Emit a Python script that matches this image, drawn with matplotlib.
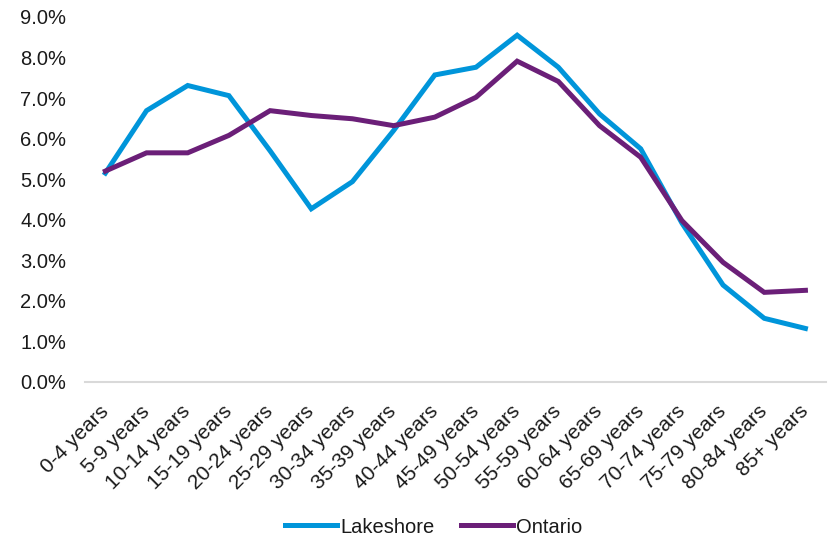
import matplotlib
matplotlib.use("Agg")
import matplotlib.pyplot as plt
from matplotlib.ticker import FuncFormatter, MultipleLocator

plt.rcParams['font.family'] = ['Liberation Sans', 'DejaVu Sans']

categories = ["0-4 years", "5-9 years", "10-14 years", "15-19 years", "20-24 years",
              "25-29 years", "30-34 years", "35-39 years", "40-44 years", "45-49 years",
              "50-54 years", "55-59 years", "60-64 years", "65-69 years", "70-74 years",
              "75-79 years", "80-84 years", "85+ years"]
lakeshore = [5.15, 6.69, 7.31, 7.06, 5.70, 4.27, 4.94, 6.20, 7.57, 7.76,
             8.55, 7.76, 6.61, 5.75, 3.92, 2.39, 1.57, 1.32]
ontario = [5.20, 5.65, 5.65, 6.08, 6.69, 6.57, 6.49, 6.32, 6.53, 7.02,
           7.91, 7.41, 6.32, 5.54, 3.98, 2.95, 2.21, 2.26]

fig = plt.figure(figsize=(8.31, 5.40), dpi=100)
ax = fig.add_axes([0.102, 0.2926, 0.892, 0.676])

x = range(len(categories))
ax.plot(x, lakeshore, color='#0095DA', lw=3.6, label='Lakeshore', solid_joinstyle='miter')
ax.plot(x, ontario, color='#6B1F78', lw=3.6, label='Ontario', solid_joinstyle='miter')

ax.set_xlim(-0.5, len(categories) - 0.5)
ax.set_ylim(0, 9)
ax.yaxis.set_major_locator(MultipleLocator(1))
ax.yaxis.set_major_formatter(FuncFormatter(lambda v, p: f"{v:.1f}%"))
ax.set_xticks(list(x))
ax.set_xticklabels(categories, rotation=45, ha='right', va='center',
                   rotation_mode='anchor', fontsize=15)

for s in ['top', 'right', 'left']:
    ax.spines[s].set_visible(False)
ax.spines['bottom'].set_color('#D9D9D9')
ax.spines['bottom'].set_linewidth(1.5)
ax.tick_params(axis='both', length=0, colors='#1a1a1a')
ax.tick_params(axis='y', pad=13.5, labelsize=14.5)
ax.tick_params(axis='x', pad=19)

fig.legend(loc='center', bbox_to_anchor=(0.522, 0.024), ncol=2, frameon=False,
           fontsize=14.5, handlelength=2.6, handletextpad=0.15, columnspacing=1.3,
           labelcolor='#1a1a1a')

fig.savefig('out.png', dpi=100)
